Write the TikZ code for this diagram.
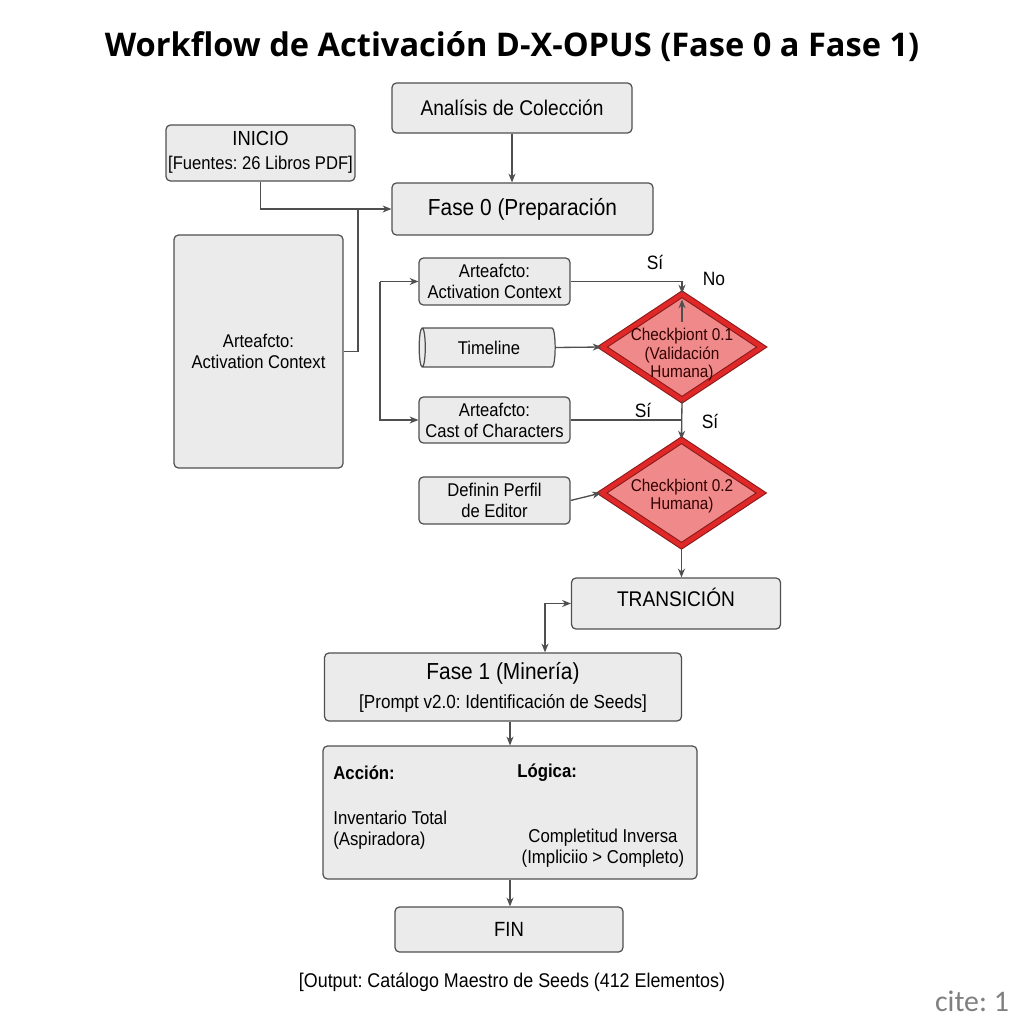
\documentclass[tikz,border=0pt]{standalone}
\usepackage{fontspec}
\setmainfont{Liberation Sans}[FakeStretch=0.9]
\newfontfamily\titlefont{Open Sans}
\newfontfamily\citefont{Carlito}
\usetikzlibrary{arrows.meta,shapes.geometric}
\frenchspacing

\definecolor{boxgray}{HTML}{EBEBEB}
\definecolor{linegray}{HTML}{4F4F4F}
\definecolor{chkfill}{HTML}{F08A8A}
\definecolor{chkred}{HTML}{E02828}
\definecolor{chkdark}{HTML}{8A1A1A}

\begin{document}
\begin{tikzpicture}[x=0.02cm, y=-0.02cm,
    box/.style={draw=linegray, line width=0.7pt, fill=boxgray, rounded corners=2.5pt, align=center, inner sep=0pt, font=\fontsize{10.5}{12}\selectfont},
    check/.style={diamond, draw=chkdark, line width=0.6pt, double=chkred, double distance=2.6pt, fill=chkfill, inner sep=0pt, minimum width=3.2cm, minimum height=2.12cm},
    chktext/.style={align=center, inner sep=0pt, text=black!80!red, font=\fontsize{9.7}{10.5}\selectfont},
    line/.style={draw=linegray, line width=0.75pt},
    arr/.style={line, -{Stealth[length=5pt,width=4pt]}},
    lbl/.style={inner sep=0pt, font=\fontsize{11}{12}\selectfont}]

    % Define the page
    \fill[white] (0,0) rectangle (1024,1024);

    % Place the title
    \node[font=\titlefont\bfseries\fontsize{18.55}{22}\selectfont] (title) at (512,47) {Workflow de Activación D-X-OPUS (Fase 0 a Fase 1)};

    % Draw the boxes of Fase 0
    \node[box, minimum width=4.8cm, minimum height=1cm, font=\fontsize{12.1}{13}\selectfont] (analisis) at (512,108) {Analísis de Colección};
    \node[box, minimum width=3.78cm, minimum height=1.12cm, font=\fontsize{10.5}{14}\selectfont, text depth=0.1cm] (inicio) at (260.5,153) {{\fontsize{11.6}{14}\selectfont INICIO}\\{}[Fuentes: 26 Libros PDF]};
    \node[box, minimum width=5.22cm, minimum height=1.04cm, font=\fontsize{13.2}{14}\selectfont] (fase0) at (522.5,209) {Fase 0 (Preparación};
    \node[box, minimum width=3.38cm, minimum height=4.66cm, font=\fontsize{10.5}{11.5}\selectfont] (bigctx) at (258.5,351.5) {Arteafcto:\\Activation Context};
    \node[box, minimum width=3.02cm, minimum height=0.94cm] (actx) at (494.5,281.5) {Arteafcto:\\Activation Context};
    \node[cylinder, shape border rotate=180, aspect=0.45, draw=linegray, line width=0.7pt, fill=boxgray, minimum height=2.72cm, minimum width=0.78cm, inner sep=0pt, font=\fontsize{10.5}{12}\selectfont] (timeline) at (489,347.5) {Timeline};
    \node[box, minimum width=3.02cm, minimum height=0.92cm] (cast) at (494.5,420) {Arteafcto:\\Cast of Characters};
    \node[box, minimum width=3.02cm, minimum height=0.94cm] (perfil) at (494.5,500.5) {Definin Perfil\\de Editor};

    % Draw the checkpoints
    \node[check] (chk1) at (682,347) {};
    \node[chktext] (chk1text) at (682,355) {Checkþiont 0.1\\(Validación\\Humana)};
    \node[check] (chk2) at (681.5,493) {};
    \node[chktext] (chk2text) at (682,496) {Checkþiont 0.2\\Humana)};

    % Draw the boxes of Fase 1
    \node[box, minimum width=4.18cm, minimum height=1.02cm, font=\fontsize{12.1}{13}\selectfont, text depth=0.25cm] (trans) at (676,603.5) {TRANSICIÓN};
    \node[box, minimum width=7.14cm, minimum height=1.36cm, font=\fontsize{10.8}{16.5}\selectfont] (fase1) at (503,687) {{\fontsize{13.2}{16.5}\selectfont Fase 1 (Minería)}\\{}[Prompt v2.0: Identificación de Seeds]};
    \node[box, minimum width=7.48cm, minimum height=2.66cm] (logic) at (510,812.5) {};
    \node[box, minimum width=4.56cm, minimum height=0.9cm, font=\fontsize{11.7}{13}\selectfont] (fin) at (509,929.5) {FIN};

    % Place the texts of the logic box
    \node[anchor=west, inner sep=0pt, font=\bfseries\fontsize{10.6}{12}\selectfont] (accion) at (333,773) {Acción:};
    \node[anchor=west, inner sep=0pt, font=\bfseries\fontsize{10.6}{12}\selectfont] (logica) at (517,773) {Lógica:};
    \node[anchor=west, inner sep=0pt, align=left, font=\fontsize{10.6}{12}\selectfont] (inventario) at (333,830) {Inventario Total\\(Aspiradora)};
    \node[inner sep=0pt, align=center, font=\fontsize{10.6}{12}\selectfont] (completitud) at (603,848) {Completitud Inversa\\(Impliciio > Completo)};

    % Draw the connectors
    \coordinate (join) at (358,209);
    \coordinate (split) at (380,281.5);
    \coordinate (chkin) at (682,322);
    \coordinate (tbend) at (545,603.5);
    \draw[arr] (analisis.south) -- (analisis.south |- fase0.north);
    \draw[arr] (inicio.south) |- (fase0.west);
    \draw[line] (bigctx.east) -| (join);
    \draw[arr] (split) -- (actx.west);
    \draw[arr] (split) |- (cast.west);
    \draw[arr] (actx.east) -| (chk1.north);
    \draw[arr, shorten >=0.12cm] (chkin) -- (chk1.north);
    \draw[arr] (timeline.east) -- (chk1.west);
    \draw[line] (cast.east) -- (cast.east -| chk1.south);
    \draw[arr] (chk1.south) -- (chk2.north);
    \draw[arr] (perfil.east) -- (chk2.west);
    \draw[arr] (chk2.south) -- (chk2.south |- trans.north);
    \draw[arr, {Stealth[length=5pt,width=4pt]}-{Stealth[length=5pt,width=4pt]}] (tbend |- fase1.north) |- (trans.west);
    \draw[arr] (logic.north |- fase1.south) -- (logic.north);
    \draw[arr] (logic.south) -- (logic.south |- fin.north);

    % Place the labels of the checkpoints
    \node[lbl] (si1) at (655,262) {Sí};
    \node[lbl] (no1) at (714,279) {No};
    \node[lbl] (si2) at (643,410) {Sí};
    \node[lbl] (si3) at (710,421) {Sí};

    % Place the output and the citation
    \node[font=\fontsize{11.3}{12}\selectfont] (output) at (512,982) {[Output: Catálogo Maestro de Seeds (412 Elementos)};
    \node[font=\citefont\fontsize{17}{20}\selectfont, text=gray] (cite) at (972,1001) {cite: 1};

\end{tikzpicture}
\end{document}
